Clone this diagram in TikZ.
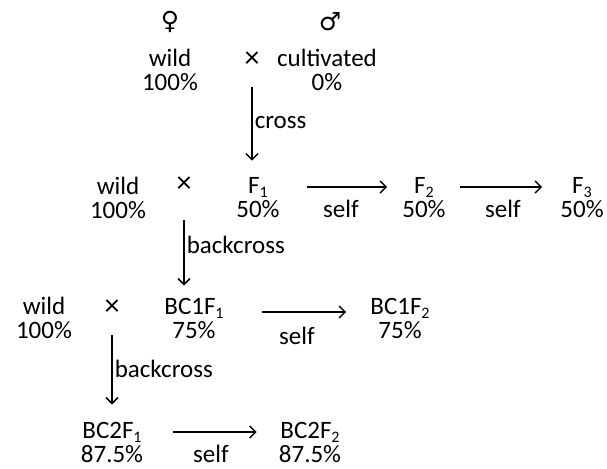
\documentclass[tikz,border=0pt]{standalone}
\usepackage{fontspec}
\setmainfont{Carlito}
\newfontfamily\symfont{DejaVu Sans}
\usepackage{tikz}
\usetikzlibrary{arrows.meta}
\newcommand{\lowidx}[1]{\raisebox{-4pt}{\fontsize{16}{16}\selectfont #1}}
\tikzstyle{gen} = [align=center, inner sep=0pt, font=\fontsize{25}{24}\selectfont]
\tikzstyle{lbl} = [inner sep=0pt, font=\fontsize{25}{24}\selectfont]
\tikzstyle{arrow} = [line width=1.5pt, -{Straight Barb[length=6pt,width=12pt]}]

\begin{document}
\begin{tikzpicture}[x=1pt, y=-1pt]
	\useasboundingbox (0,0) rectangle (607,468);
	\node (fem) at (170,22) [lbl] {\symfont ♀};
	\node (mal) at (330,22) [lbl] {\symfont ♂};
	\node (w0) at (170,70) [gen] {wild\\100\%};
	\node (x0) at (252,60) [lbl, font=\fontsize{30}{30}\selectfont] {×};
	\node (cv) at (327,70) [gen] {cultivated\\0\%};
	\node (w1) at (118,198) [gen] {wild\\100\%};
	\node (x1) at (184,185) [lbl, font=\fontsize{30}{30}\selectfont] {×};
	\node (f1) at (258,198) [gen] {F\lowidx{1}\\50\%};
	\node (f2) at (424,198) [gen] {F\lowidx{2}\\50\%};
	\node (f3) at (582,198) [gen] {F\lowidx{3}\\50\%};
	\node (w2) at (44,318) [gen] {wild\\100\%};
	\node (x2) at (112,308) [lbl, font=\fontsize{30}{30}\selectfont] {×};
	\node (b11) at (194,318) [gen] {BC1F\lowidx{1}\\75\%};
	\node (b12) at (400,318) [gen] {BC1F\lowidx{2}\\75\%};
	\node (b21) at (112,442) [gen] {BC2F\lowidx{1}\\87.5\%};
	\node (b22) at (310,442) [gen] {BC2F\lowidx{2}\\87.5\%};
	\draw[arrow, shorten <=19pt, shorten >=17pt] (x0.south) -- (x0.south |- f1.north) node[midway, right, lbl, xshift=2pt] {cross};
	\draw[arrow, shorten <=27pt, shorten >=15pt] ([yshift=11pt]f1.east) -- ([yshift=11pt]f2.west) node[midway, below, lbl, yshift=-12pt] {self};
	\draw[arrow, shorten <=14pt, shorten >=18pt] ([yshift=11pt]f2.east) -- ([yshift=11pt]f3.west) node[midway, below, lbl, yshift=-12pt] {self};
	\draw[arrow, shorten <=27pt, shorten >=12pt] (x1.south) -- (x1.south |- b11.north) node[midway, right, lbl, xshift=2pt] {backcross};
	\draw[arrow, shorten <=38pt, shorten >=24pt] ([yshift=6pt]b11.east) -- ([yshift=6pt]b12.west) node[midway, below, lbl, yshift=-14pt] {self};
	\draw[arrow, shorten <=19pt, shorten >=17pt] (x2.south) -- (x2.south |- b21.north) node[midway, right, lbl, xshift=2pt] {backcross};
	\draw[arrow, shorten <=30pt, shorten >=22pt] ([yshift=10pt]b21.east) -- ([yshift=10pt]b22.west) node[midway, below, lbl, yshift=-12pt] {self};
\end{tikzpicture}
\end{document}
